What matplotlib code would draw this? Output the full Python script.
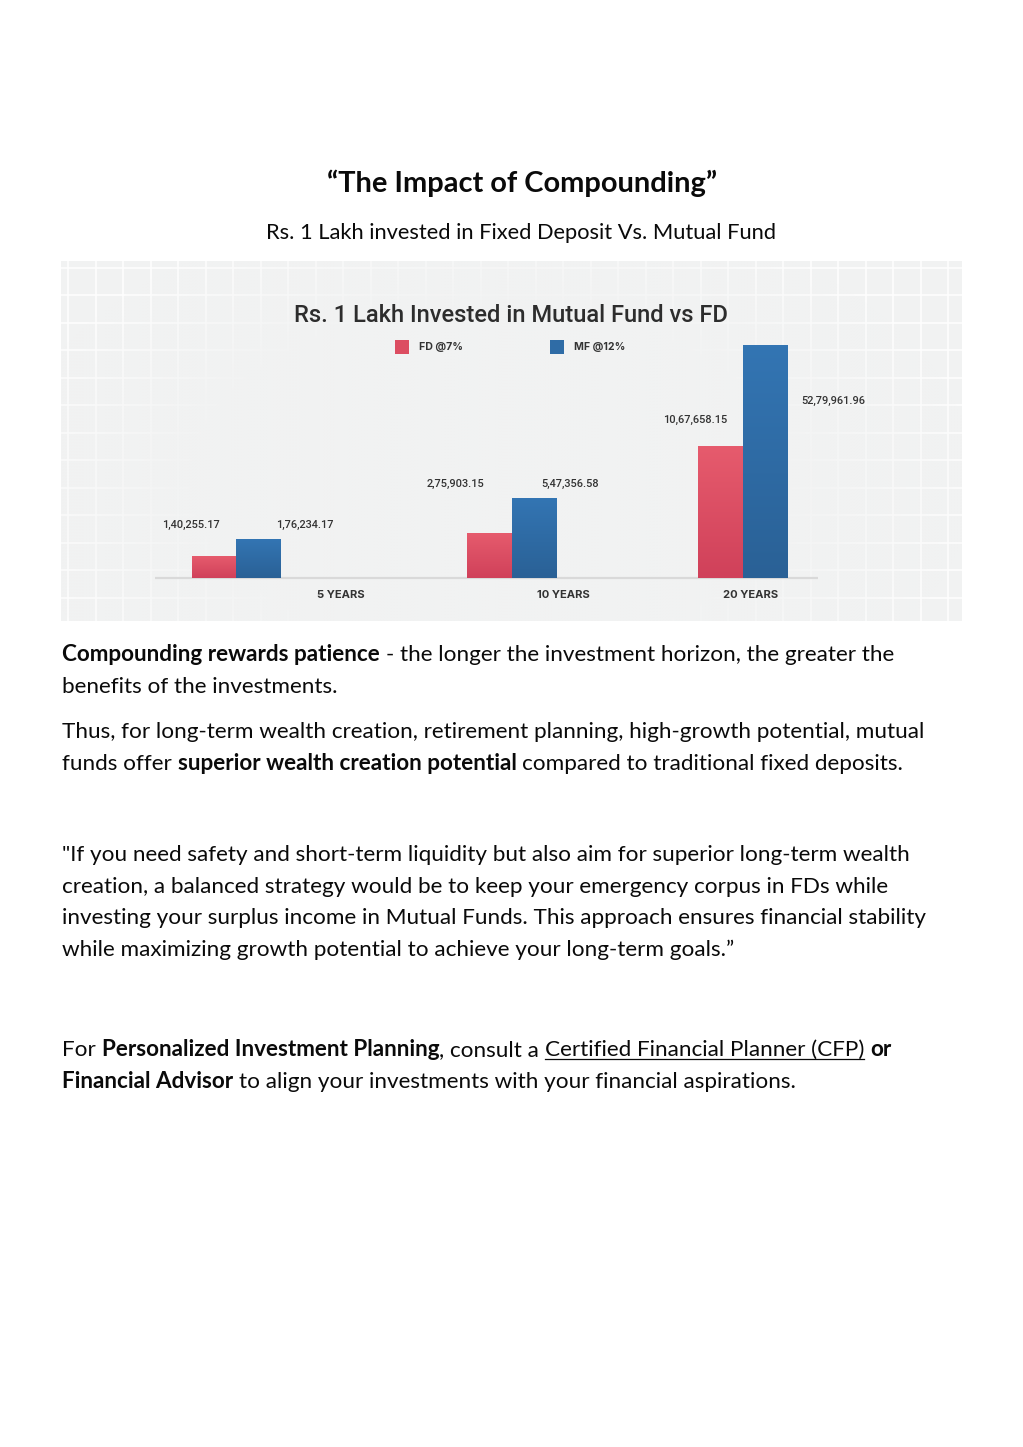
import numpy as np
import matplotlib
matplotlib.use("Agg")
import matplotlib.pyplot as plt
from matplotlib.patches import Rectangle

# ---------------- data ----------------
categories = ["5 YEARS", "10 YEARS", "20 YEARS"]
series_names = ["FD @7%", "MF @12%"]
fd_labels = ["1,40,255.17", "2,75,903.15", "10,67,658.15"]
mf_labels = ["1,76,234.17", "5,47,356.58", "52,79,961.96"]
# bar heights as drawn in the infographic (not to scale with the labels)
fd_bar_heights = [21.7, 45.0, 131.4]
mf_bar_heights = [38.4, 80.0, 232.4]

chart_title = "Rs. 1 Lakh Invested in Mutual Fund vs FD"
doc_title = "\u201cThe Impact of Compounding\u201d"
doc_subtitle = "Rs. 1 Lakh invested in Fixed Deposit Vs. Mutual Fund"

# ---------------- layout ----------------
W, H, DPI = 1023, 1447, 100
CH_L, CH_R, CH_T, CH_B = 61, 962, 261, 621       # chart image rect (px)
BASE = 577.7                                      # baseline (px)
group_x = [236.3, 511.5, 742.7]
bar_w = 44.4
fd_label_pos = [(191.0, 52.7), (455.6, 94.0), (695.5, 157.4)]
mf_label_pos = [(304.5, 52.7), (570.0, 94.0), (833.0, 176.7)]
cat_label_x = [341.3, 563.5, 751.0]
cat_label_y = -17.0

RED = "#dc4d61"
BLUE = "#2f6ca6"
RED_TOP, RED_BOT = "#e65b6d", "#d0415a"
BLUE_TOP, BLUE_BOT = "#3375b3", "#2a6196"
BG = "#f1f2f2"

fig = plt.figure(figsize=(W / DPI, H / DPI), dpi=DPI)
fig.patch.set_facecolor("white")
page = fig.add_axes([0, 0, 1, 1])
page.set_xlim(0, W)
page.set_ylim(H, 0)
page.axis("off")
renderer = fig.canvas.get_renderer()


def text_w(s, size, family, weight="normal"):
    t = page.text(0, 0, s, fontsize=size, family=family, weight=weight)
    w = t.get_window_extent(renderer).width
    t.remove()
    return w


def fit(s, family, weight, target):
    return 20.0 * target / text_w(s, 20.0, family, weight)


# ---------------- chart ----------------
ax = fig.add_axes([CH_L / W, 1 - CH_B / H, (CH_R - CH_L) / W, (CH_B - CH_T) / H])
ax.set_xlim(CH_L, CH_R)
ax.set_ylim(-(CH_B - BASE), BASE - CH_T)
ax.set_facecolor(BG)
for s in ax.spines.values():
    s.set_visible(False)
ax.set_xticks([])
ax.set_yticks([])

# grid (image texture)
for gx in np.arange(68.3, CH_R, 27.5):
    ax.axvline(gx, color="white", lw=1.4, alpha=0.75, zorder=0.5)
for gy in np.arange(267.7, CH_B, 27.5):
    ax.axhline(BASE - gy, color="white", lw=1.4, alpha=0.75, zorder=0.5)

# fade overlay towards centre
nx, ny = 300, 120
xs = np.linspace(CH_L, CH_R, nx)
ys = np.linspace(CH_T, CH_B, ny)
XX, YY = np.meshgrid(xs, ys)
r = np.sqrt(((XX - 490) / 360.0) ** 2 + ((YY - 480) / 210.0) ** 2)
alpha = np.clip((1.35 - r) / 0.55, 0, 1) * 0.97
rgba = np.zeros((ny, nx, 4))
bgc = matplotlib.colors.to_rgb(BG)
rgba[..., 0], rgba[..., 1], rgba[..., 2] = bgc
rgba[..., 3] = alpha
ax.imshow(rgba, extent=(CH_L, CH_R, -(CH_B - BASE), BASE - CH_T), origin="upper",
          aspect="auto", zorder=0.8, interpolation="bilinear")
ax.set_xlim(CH_L, CH_R)
ax.set_ylim(-(CH_B - BASE), BASE - CH_T)

# baseline
ax.plot([155, 817.7], [-0.6, -0.6], color="#d9d9d9", lw=1.6, zorder=1.5, solid_capstyle="butt")


def grad_bar(x0, h, top, bot):
    rect = Rectangle((x0, 0), bar_w, h, facecolor="none", edgecolor="none", zorder=2)
    ax.add_patch(rect)
    c1 = np.array(matplotlib.colors.to_rgb(top))
    c2 = np.array(matplotlib.colors.to_rgb(bot))
    g = np.linspace(0, 1, 64)[:, None, None]
    img = c1 * (1 - g) + c2 * g
    img = np.repeat(img, 2, axis=1)
    im = ax.imshow(img, extent=(x0, x0 + bar_w, 0, h), origin="upper", aspect="auto",
                   zorder=2, interpolation="bilinear")
    im.set_clip_path(rect)


fd_bars = ax.bar([gx - bar_w / 2 for gx in group_x], fd_bar_heights, width=bar_w,
                 color=RED, zorder=1.9, linewidth=0)
mf_bars = ax.bar([gx + bar_w / 2 for gx in group_x], mf_bar_heights, width=bar_w,
                 color=BLUE, zorder=1.9, linewidth=0)
for b in fd_bars:
    grad_bar(b.get_x(), b.get_height(), RED_TOP, RED_BOT)
for b in mf_bars:
    grad_bar(b.get_x(), b.get_height(), BLUE_TOP, BLUE_BOT)
ax.set_xlim(CH_L, CH_R)
ax.set_ylim(-(CH_B - BASE), BASE - CH_T)

CF = "Inter"
VF = "Roboto"
val_size = fit("1,40,255.17", VF, "medium", 58)
for (x, y), s in zip(fd_label_pos, fd_labels):
    ax.text(x, y, s, ha="center", va="center", fontsize=val_size, family=VF,
            weight="medium", color="#333333", zorder=3)
for (x, y), s in zip(mf_label_pos, mf_labels):
    ax.text(x, y, s, ha="center", va="center", fontsize=val_size, family=VF,
            weight="medium", color="#333333", zorder=3)

cat_size = fit("10 YEARS", CF, "bold", 53)
for x, s in zip(cat_label_x, categories):
    ax.text(x, cat_label_y, s, ha="center", va="center", fontsize=cat_size, family=CF,
            weight="bold", color="#333333", zorder=3)

t_size = fit(chart_title, VF, "medium", 434)
ax.text(511, BASE - 316.0, chart_title, ha="center", va="center", fontsize=t_size,
        family=VF, weight="medium", color="#2d2d2d", zorder=3)

leg_size = fit("MF @12%", CF, "bold", 51)
for sx, tx, name, col in [(395.3, 419.3, series_names[0], RED), (550.3, 574.3, series_names[1], BLUE)]:
    ax.add_patch(Rectangle((sx, BASE - 354.3), 14, 14, facecolor=col, edgecolor="none", zorder=3))
    ax.text(tx, BASE - 347.3, name, ha="left", va="center", fontsize=leg_size, family=CF,
            weight="bold", color="#333333", zorder=3)

# ---------------- document text ----------------
DF = "Lato"
TXT = "#0a0a0a"

title_size = fit(doc_title, DF, "bold", 390)
page.text(522, 192, doc_title, ha="center", va="baseline", fontsize=title_size,
          family=DF, weight="bold", color=TXT)
sub_size = fit(doc_subtitle, DF, "normal", 511)
page.text(521.5, 239, doc_subtitle, ha="center", va="baseline", fontsize=sub_size,
          family=DF, color=TXT)

body_size = fit("Thus, for long-term wealth creation, retirement planning, high-growth potential, mutual",
                DF, "normal", 861)


def space_w(size, weight):
    return text_w("x x", size, DF, weight) - text_w("xx", size, DF, weight)


def draw_runs(x, y, runs, size):
    for run in runs:
        s, bold = run[0], run[1]
        ul = len(run) > 2 and run[2]
        weight = "bold" if bold else "normal"
        core = s.strip(" ")
        lead = len(s) - len(s.lstrip(" "))
        trail = (len(s) - len(s.rstrip(" "))) if core else 0
        sp = space_w(size, weight)
        x += lead * sp
        if core:
            page.text(x, y, core, ha="left", va="baseline", fontsize=size, family=DF,
                      weight=weight, color=TXT)
            w = text_w(core, size, DF, weight)
            if ul:
                page.plot([x, x + w], [y + 3, y + 3], color=TXT, lw=0.9)
            x += w
        x += trail * sp


R, B = False, True
lines = [
    (661, [("Compounding rewards patience", B), (" - the longer the investment horizon, the greater the", R)]),
    (693, [("benefits of the investments.", R)]),
    (738, [("Thus, for long-term wealth creation, retirement planning, high-growth potential, mutual", R)]),
    (770, [("funds offer ", R), ("superior wealth creation potential", B), (" compared to traditional fixed deposits.", R)]),
    (861, [("\"If you need safety and short-term liquidity but also aim for superior long-term wealth", R)]),
    (893, [("creation, a balanced strategy would be to keep your emergency corpus in FDs while", R)]),
    (924, [("investing your surplus income in Mutual Funds. This approach ensures financial stability", R)]),
    (956, [("while maximizing growth potential to achieve your long-term goals.\u201d", R)]),
    (1056, [("For ", R), ("Personalized Investment Planning", B), (", consult a ", R),
            ("Certified Financial Planner (CFP)", R, True), (" ", R), ("or", B)]),
    (1088, [("Financial Advisor", B), (" to align your investments with your financial aspirations.", R)]),
]
for y, runs in lines:
    draw_runs(62, y, runs, body_size)

fig.savefig("out.png", dpi=DPI, facecolor="white")
